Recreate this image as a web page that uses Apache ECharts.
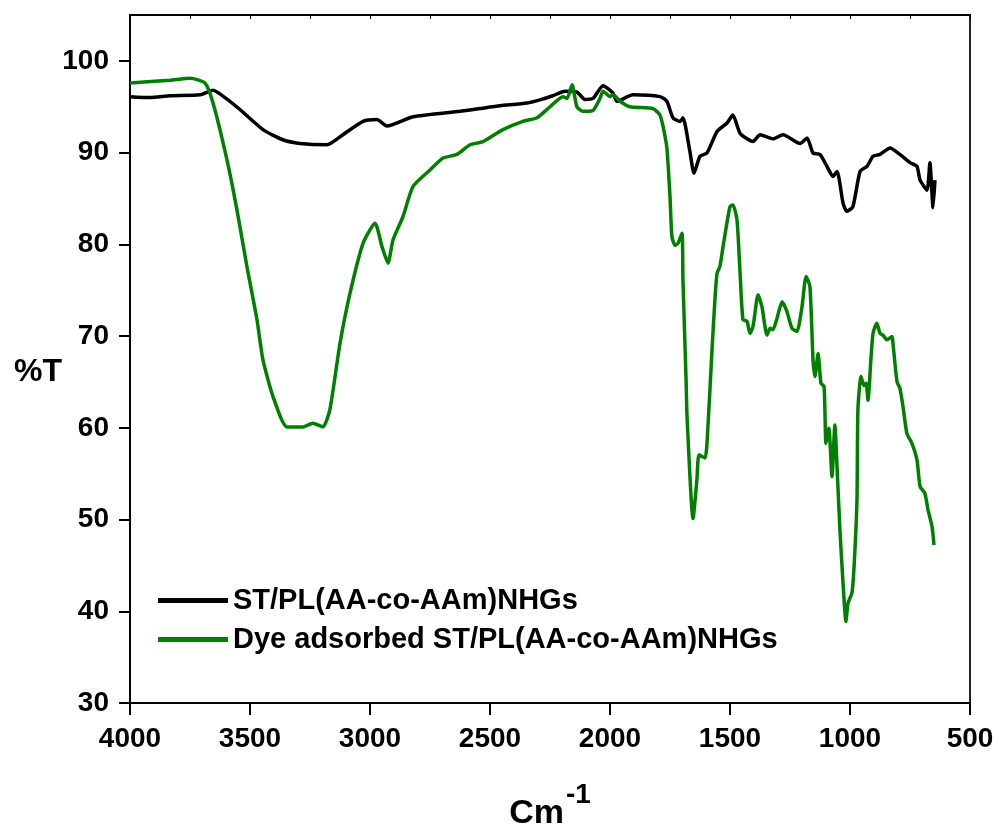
<!DOCTYPE html>
<html>
<head>
<meta charset="utf-8">
<script src="https://cdn.jsdelivr.net/npm/echarts@6/dist/echarts.min.js"></script>
<style>
  html, body { margin: 0; padding: 0; background: #fff; }
  #chart { width: 999px; height: 829px; }
</style>
</head>
<body>
<div id="chart"></div>
<script>
// FTIR spectra, wavenumber (cm-1) vs %T
const blankWave = [4000, 3917, 3833, 3708, 3654, 3604, 3542, 3446, 3363, 3292, 3179, 3113, 3029, 2971, 2929, 2821, 2625, 2542, 2458, 2346, 2292, 2238, 2188, 2138, 2104, 2071, 2029, 1988, 1971, 1904, 1792, 1763, 1738, 1708, 1696, 1667, 1650, 1625, 1596, 1554, 1513, 1488, 1458, 1404, 1375, 1321, 1279, 1208, 1179, 1154, 1125, 1096, 1071, 1054, 1029, 1013, 988, 958, 929, 904, 875, 833, 792, 750, 721, 708, 679, 667, 654, 646]
const blankT = [96.1, 96.0, 96.2, 96.3, 96.8, 96.0, 94.7, 92.5, 91.4, 91.0, 90.85, 91.95, 93.4, 93.6, 92.9, 93.9, 94.5, 94.8, 95.1, 95.4, 95.75, 96.2, 96.7, 96.6, 95.8, 95.9, 97.3, 96.5, 95.6, 96.3, 96.1, 95.6, 93.8, 93.4, 93.8, 90.1, 87.75, 89.6, 89.95, 92.3, 93.2, 94.1, 92.1, 91.2, 91.95, 91.5, 91.95, 91.0, 91.6, 89.95, 89.8, 88.5, 87.4, 87.95, 84.5, 83.6, 84.1, 87.95, 88.5, 89.6, 89.8, 90.5, 89.8, 88.9, 88.5, 87.0, 85.9, 88.9, 84.0, 87.0]

const dyeWave = [4000, 3833, 3750, 3688, 3654, 3596, 3554, 3513, 3471, 3446, 3404, 3346, 3279, 3238, 3196, 3167, 3125, 3083, 3029, 2979, 2950, 2925, 2904, 2863, 2821, 2750, 2696, 2638, 2583, 2529, 2446, 2363, 2304, 2250, 2196, 2179, 2158, 2138, 2113, 2071, 2042, 2029, 2000, 1988, 1958, 1917, 1821, 1792, 1779, 1763, 1750, 1742, 1729, 1717, 1700, 1696, 1683, 1679, 1654, 1638, 1629, 1604, 1592, 1575, 1563, 1554, 1542, 1529, 1513, 1500, 1488, 1471, 1458, 1446, 1429, 1417, 1404, 1383, 1367, 1346, 1333, 1321, 1304, 1283, 1263, 1242, 1221, 1200, 1183, 1167, 1154, 1146, 1133, 1121, 1108, 1100, 1088, 1075, 1063, 1054, 1042, 1029, 1017, 1008, 992, 983, 971, 967, 954, 942, 933, 925, 913, 904, 888, 875, 863, 846, 825, 821, 804, 792, 779, 763, 742, 721, 708, 688, 675, 658, 650]
const dyeT = [97.6, 97.9, 98.1, 97.6, 95.4, 89.2, 83.7, 77.6, 71.8, 67.4, 63.4, 60.1, 60.1, 60.5, 60.1, 62.0, 69.2, 74.7, 80.1, 82.3, 79.75, 77.95, 80.5, 83.0, 86.3, 88.1, 89.4, 89.8, 90.85, 91.2, 92.5, 93.4, 93.8, 95.0, 96.1, 95.9, 97.4, 95.0, 94.5, 94.6, 95.9, 96.7, 96.1, 96.3, 95.6, 95.0, 94.8, 94.1, 92.85, 90.5, 85.2, 80.85, 79.9, 80.1, 81.2, 76.1, 65.2, 61.2, 50.1, 54.3, 57.05, 56.7, 60.1, 68.5, 73.9, 76.85, 77.6, 79.75, 82.3, 84.1, 84.3, 82.7, 76.85, 71.8, 71.6, 70.3, 71.05, 74.5, 73.2, 70.1, 70.85, 70.7, 71.95, 73.75, 72.7, 70.85, 70.5, 73.2, 76.5, 75.4, 67.4, 65.6, 68.1, 64.85, 64.5, 58.3, 59.95, 54.7, 60.3, 55.7, 48.9, 43.05, 38.9, 40.9, 42.0, 44.9, 52.1, 62.0, 65.6, 64.6, 64.85, 63.0, 67.4, 70.3, 71.4, 70.3, 70.1, 69.6, 69.95, 69.2, 65.0, 64.3, 62.3, 59.4, 58.3, 56.5, 53.6, 52.85, 51.05, 49.2, 47.2]

const seriesNames = ["ST/PL(AA-co-AAm)NHGs", "Dye adsorbed ST/PL(AA-co-AAm)NHGs"]
const yTicks = [30, 40, 50, 60, 70, 80, 90, 100]

const font = "'Liberation Sans', Arial, sans-serif"
const chart = echarts.init(document.getElementById("chart"), null, { renderer: "canvas" })

const pairs = (xs, ys) => xs.map((x, i) => [x, ys[i]])

chart.setOption({
  backgroundColor: "#fff",
  animation: false,
  grid: { left: 130, right: 29, top: 15, bottom: 126, outerBoundsMode: "none" },
  legend: {
    orient: "vertical",
    left: 153,
    top: 576,
    icon: "rect",
    itemWidth: 70,
    itemHeight: 5,
    itemGap: 0,
    textStyle: { fontFamily: font, fontWeight: "bold", fontSize: 29, color: "#000", lineHeight: 39 },
    data: seriesNames
  },
  graphic: [
    {
      type: "text",
      left: 14,
      top: 356,
      style: { text: "%T", fontFamily: font, fontWeight: "bold", fontSize: 32, fill: "#000" }
    }
  ],
  xAxis: [
    {
      type: "value",
      inverse: true,
      min: 500,
      max: 4000,
      interval: 500,
      name: "{b|Cm}{s|-1}",
      nameLocation: "middle",
      nameGap: 78,
      nameTextStyle: {
        rich: {
          b: { fontFamily: font, fontWeight: "bold", fontSize: 34, color: "#000", verticalAlign: "bottom" },
          s: { fontFamily: font, fontWeight: "bold", fontSize: 28, color: "#000", padding: [0, 0, 22, 2] }
        }
      },
      axisLine: { lineStyle: { color: "#000", width: 2 } },
      axisTick: { length: 12, lineStyle: { color: "#000", width: 2 } },
      axisLabel: { margin: 22, fontFamily: font, fontWeight: "bold", fontSize: 28, color: "#000", formatter: (v) => String(v) },
      splitLine: { show: false }
    },
    {
      type: "value",
      position: "top",
      inverse: true,
      min: 500,
      max: 4000,
      interval: 250,
      axisLine: { show: true, lineStyle: { color: "#000", width: 2 } },
      axisTick: { inside: true, length: 4, lineStyle: { color: "#000", width: 1 } },
      axisLabel: { show: false },
      splitLine: { show: false }
    }
  ],
  yAxis: [
    {
      type: "value",
      min: 30,
      max: 105,
      interval: 10,
      axisLine: { show: true, lineStyle: { color: "#000", width: 2 } },
      axisTick: { length: 11, customValues: yTicks, lineStyle: { color: "#000", width: 2 } },
      axisLabel: { margin: 21, customValues: yTicks, fontFamily: font, fontWeight: "bold", fontSize: 28, color: "#000" },
      splitLine: { show: false }
    },
    {
      type: "value",
      position: "right",
      min: 30,
      max: 105,
      axisLine: { show: true, lineStyle: { color: "#222", width: 2 } },
      axisTick: { show: false },
      axisLabel: { show: false },
      splitLine: { show: false }
    }
  ],
  series: [
    {
      name: seriesNames[0],
      type: "line",
      showSymbol: false,
      smooth: 0.2,
      data: pairs(blankWave, blankT),
      lineStyle: { color: "#000", width: 3.5 },
      itemStyle: { color: "#000" }
    },
    {
      name: seriesNames[1],
      type: "line",
      showSymbol: false,
      smooth: 0.2,
      data: pairs(dyeWave, dyeT),
      lineStyle: { color: "#008000", width: 3.5 },
      itemStyle: { color: "#008000" }
    }
  ]
})
</script>
</body>
</html>
